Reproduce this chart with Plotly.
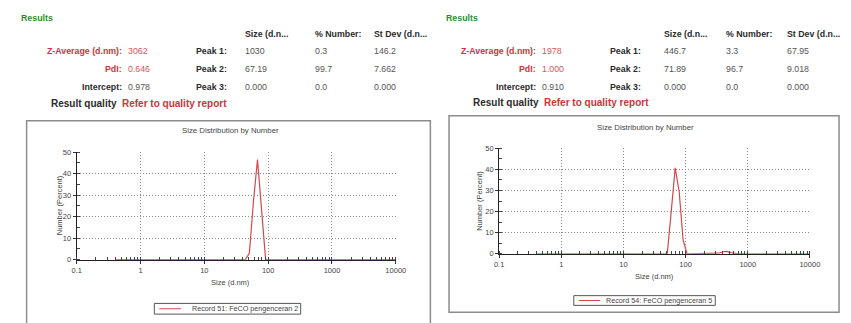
import plotly.graph_objects as go

W, H = 851, 323

# Malvern size classes (d.nm)
size_bins = [0.4, 0.4632, 0.5365, 0.6213, 0.7195, 0.8332, 0.9649, 1.117, 1.294, 1.499,
             1.736, 2.010, 2.328, 2.696, 3.122, 3.615, 4.187, 4.849, 5.615, 6.503,
             7.531, 8.721, 10.10, 11.70, 13.54, 15.69, 18.17, 21.04, 24.36, 28.21,
             32.67, 37.84, 43.82, 50.75, 58.77, 68.06, 78.82, 91.28, 105.7, 122.4,
             141.8, 164.2, 190.1, 220.2, 255.0, 295.3, 342.0, 396.1, 458.7, 531.2,
             615.1, 712.4, 825.0, 955.4, 1106, 1281, 1484, 1718, 1990, 2305,
             2669, 3091, 3580, 4145, 4801, 5560, 6439, 7456, 8635, 10000]

# Number distribution (%) - record 51
number_rec51 = [0, 0, 0, 0, 0, 0, 0, 0, 0, 0,
                0, 0, 0, 0, 0, 0, 0, 0, 0, 0,
                0, 0, 0, 0, 0, 0, 0, 0, 0, 0,
                0, 0, 0, 3.0, 27.0, 46.5, 23.0, 0, 0, 0,
                0, 0, 0, 0, 0, 0, 0, 0, 0, 0,
                0, 0, 0, 0.1, 0.15, 0.05, 0, 0, 0, 0,
                0, 0, 0, 0, 0, 0, 0, 0, 0, 0]

# Number distribution (%) - record 54
number_rec54 = [0, 0, 0, 0, 0, 0, 0, 0, 0, 0,
                0, 0, 0, 0, 0, 0, 0, 0, 0, 0,
                0, 0, 0, 0, 0, 0, 0, 0, 0, 0,
                0, 0, 0, 0, 20.0, 40.7, 29.5, 6.5, 0, 0,
                0, 0, 0, 0, 0, 0, 0.3, 1.0, 1.2, 0.6,
                0.2, 0, 0, 0, 0, 0, 0, 0, 0, 0,
                0, 0, 0, 0, 0, 0, 0, 0, 0, 0]

x_tick_vals = [0.1, 1, 10, 100, 1000, 10000]
x_tick_text = ["0.1", "1", "10", "100", "1000", "10000"]
y_tick_vals = [0, 10, 20, 30, 40, 50]

record_names = ["Record 51: FeCO pengenceran 2", "Record 54: FeCO pengenceran 5"]

header_cols = ["Size (d.n...", "% Number:", "St Dev (d.n..."]
left_summary = {"zavg": "3062", "pdi": "0.646", "intercept": "0.978"}
right_summary = {"zavg": "1978", "pdi": "1.000", "intercept": "0.910"}
left_peaks = [["1030", "0.3", "146.2"], ["67.19", "99.7", "7.662"], ["0.000", "0.0", "0.000"]]
right_peaks = [["446.7", "3.3", "67.95"], ["71.89", "96.7", "9.018"], ["0.000", "0.0", "0.000"]]

RED = "#c9363a"
RED_VAL = "#d2575b"
DARK = "#2b2b2b"
GREY_VAL = "#555555"
GREEN = "#2f8a35"
AXIS_TXT = "#444444"
CURVE = "#d2484c"
FONT = "Liberation Sans, Arial, sans-serif"
TS = 8.8  # table font size


def px(x):
    return x / W


def py(y):
    return 1 - y / H


fig = go.Figure()
annotations = []
shapes = []


def text(x, y, s, size=8, color=DARK, bold=False, anchor="left", angle=0):
    annotations.append(dict(
        x=px(x), y=py(y), xref="paper", yref="paper", showarrow=False,
        text=f"<b>{s}</b>" if bold else s, xanchor=anchor, yanchor="middle",
        textangle=angle, borderpad=0, font=dict(family=FONT, size=size, color=color)))


def results_table(x0, label_r, peak_r, col_x, summary, peaks):
    text(x0, 14, "Results", size=TS, color=GREEN, bold=True)
    rows_y = [48, 67, 85]
    for cx, h in zip(col_x, header_cols):
        text(cx, 31, h, size=TS, bold=True)
    text(label_r, rows_y[0], "Z-Average (d.nm):", size=TS, color=RED, bold=True, anchor="right")
    text(label_r + 4, rows_y[0], summary["zavg"], size=TS, color=RED_VAL)
    text(label_r, rows_y[1], "PdI:", size=TS, color=RED, bold=True, anchor="right")
    text(label_r + 4, rows_y[1], summary["pdi"], size=TS, color=RED_VAL)
    text(label_r, rows_y[2], "Intercept:", size=TS, bold=True, anchor="right")
    text(label_r + 4, rows_y[2], summary["intercept"], size=TS, color=GREY_VAL)
    for i, (ry, vals) in enumerate(zip(rows_y, peaks)):
        text(peak_r, ry, f"Peak {i + 1}:", size=TS, bold=True, anchor="right")
        for cx, v in zip(col_x, vals):
            text(cx, ry, v, size=TS, color=GREY_VAL)


results_table(15, 120, 227, [243, 315, 375], left_summary, left_peaks)
text(115, 102, "Result quality", size=10, bold=True, anchor="right")
text(118, 102, "Refer to quality report", size=10, color=RED, bold=True)

results_table(448, 542, 648, [670, 733, 795], right_summary, right_peaks)
text(545, 101, "Result quality", size=10, bold=True, anchor="right")
text(548, 101, "Refer to quality report", size=10, color=RED, bold=True)

panels = [
    dict(xa="x", ya="y", box=(22, 120, 433, 335), plot=(73, 152, 398, 263),
         title=(230, 130), xtitle=(230, 286), ytitle=(55, 207),
         legend=(152, 308, 301, 319), values=number_rec51, name=record_names[0]),
    dict(xa="x2", ya="y2", box=(452, 115, 849, 317), plot=(503, 148, 819.5, 257),
         title=(652, 127), xtitle=(661, 280), ytitle=(483, 202),
         legend=(579, 300, 723, 310), values=number_rec54, name=record_names[1]),
]

GRID_DASH = "1px,2px"
layout_axes = {}
for i, p in enumerate(panels):
    sfx = "" if i == 0 else str(i + 1)
    fig.add_trace(go.Scatter(x=size_bins, y=p["values"], mode="lines",
                             line=dict(color=CURVE, width=1.2), name=p["name"],
                             xaxis=p["xa"], yaxis=p["ya"], showlegend=False))
    x0, y0, x1, y1 = p["plot"]
    layout_axes["xaxis" + sfx] = dict(
        type="log", range=[-1, 4.003], domain=[px(x0), px(x1)], anchor=p["ya"],
        tickvals=x_tick_vals, ticktext=x_tick_text, ticks="outside", ticklen=3,
        tickcolor="#333", showline=True, linecolor="#222", linewidth=1,
        showgrid=True, gridcolor="#8a8a8a", griddash=GRID_DASH, gridwidth=1,
        zeroline=False, tickfont=dict(family=FONT, size=7.5, color=AXIS_TXT),
        minor=dict(ticks="inside", ticklen=3, tickcolor="#444", dtick="D1", showgrid=False),
        fixedrange=True)
    layout_axes["yaxis" + sfx] = dict(
        range=[0, 50.15], domain=[py(y1), py(y0)], anchor=p["xa"],
        tickvals=y_tick_vals, ticks="outside", ticklen=3, tickcolor="#333",
        showline=True, linecolor="#222", linewidth=1,
        showgrid=True, gridcolor="#8a8a8a", griddash=GRID_DASH, gridwidth=1,
        zeroline=False, tickfont=dict(family=FONT, size=7.5, color=AXIS_TXT),
        minor=dict(ticks="inside", ticklen=3, tickcolor="#444", dtick=5, showgrid=False),
        fixedrange=True)

    bx0, by0, bx1, by1 = p["box"]
    shapes.append(dict(type="rect", xref="paper", yref="paper",
                       x0=px(bx0), y0=py(by1), x1=px(bx1), y1=py(by0),
                       line=dict(color="#8c8c8c", width=1.5)))
    text(p["title"][0], p["title"][1], "Size Distribution by Number", size=7.8,
         color=AXIS_TXT, anchor="center")
    text(p["xtitle"][0], p["xtitle"][1], "Size (d.nm)", size=7.5, color=AXIS_TXT, anchor="center")
    text(p["ytitle"][0], p["ytitle"][1], "Number (Percent)", size=7.5, color=AXIS_TXT,
         anchor="center", angle=-90)

    lx0, ly0, lx1, ly1 = p["legend"]
    shapes.append(dict(type="rect", xref="paper", yref="paper",
                       x0=px(lx0), y0=py(ly1), x1=px(lx1), y1=py(ly0),
                       line=dict(color="#555", width=1), fillcolor="white"))
    ym = (ly0 + ly1) / 2
    shapes.append(dict(type="line", xref="paper", yref="paper",
                       x0=px(lx0 + 5), y0=py(ym), x1=px(lx0 + 27), y1=py(ym),
                       line=dict(color=CURVE, width=1)))
    text(lx1 - 2, ym, p["name"], size=7.2, color=AXIS_TXT, anchor="right")

fig.update_layout(
    width=W, height=H, margin=dict(l=0, r=0, t=0, b=0),
    paper_bgcolor="white", plot_bgcolor="white",
    showlegend=False, annotations=annotations, shapes=shapes,
    **layout_axes)

fig.write_html("out.html")
